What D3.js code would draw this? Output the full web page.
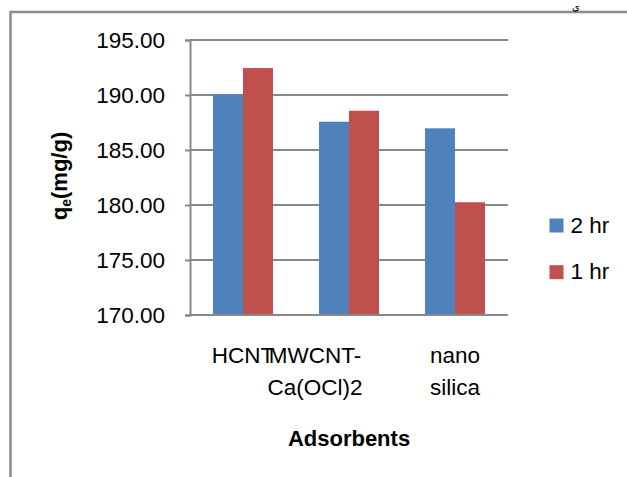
<!DOCTYPE html>
<html>
<head>
<meta charset="utf-8">
<script src="https://cdn.jsdelivr.net/npm/d3@7"></script>
<style>
  html, body { margin: 0; padding: 0; background: #fff; }
  svg { display: block; }
  text { font-family: "Liberation Sans", Arial, sans-serif; fill: #000; }
</style>
</head>
<body>
<svg id="chart" width="627" height="477"></svg>
<script>
// Adsorption capacity per adsorbent after 2 h and 1 h
const categories = ["HCNT", "MWCNT-Ca(OCl)2", "nano silica"];
const categoryLines = [["HCNT"], ["MWCNT-", "Ca(OCl)2"], ["nano", "silica"]];
const seriesNames = ["2 hr", "1 hr"];
const values2hr = [190.05, 187.57, 186.97];
const values1hr = [192.45, 188.57, 180.25];
const yTicks = [170, 175, 180, 185, 190, 195];
const yTitle = "q";
const yTitleSub = "e";
const yTitleRest = "(mg/g)";
const xTitle = "Adsorbents";
const cornerText = "ي";

const colors = ["#4F81BD", "#C0504D"];
const series = [values2hr, values1hr];

const svg = d3.select("#chart");

// outer frame (only top and left edges fall inside the view)
svg.append("path")
  .attr("d", "M10.5,477 V12 H627")
  .attr("fill", "none")
  .attr("stroke", "#8c8c8c")
  .attr("stroke-width", 2.5);

svg.append("text")
  .attr("x", 576).attr("y", 10)
  .attr("text-anchor", "middle")
  .style("font-size", "10px")
  .text(cornerText);

const plot = { left: 190, right: 508, top: 40, bottom: 315 };

const x = d3.scaleBand()
  .domain(categories)
  .range([plot.left, plot.right])
  .paddingInner(0.434)
  .paddingOuter(0.217);

const xs = d3.scaleBand()
  .domain(seriesNames)
  .range([0, x.bandwidth()]);

const y = d3.scaleLinear()
  .domain([170, 195])
  .range([plot.bottom, plot.top]);

// horizontal gridlines
svg.append("g")
  .selectAll("line")
  .data(yTicks.filter(t => t > 170))
  .join("line")
  .attr("x1", plot.left).attr("x2", plot.right)
  .attr("y1", d => y(d)).attr("y2", d => y(d))
  .attr("stroke", "#888")
  .attr("stroke-width", 2);

// bars
const groups = svg.append("g")
  .selectAll("g")
  .data(categories)
  .join("g")
  .attr("transform", d => `translate(${x(d)},0)`);

groups.selectAll("rect")
  .data((d, i) => seriesNames.map((s, j) => ({ s, j, v: series[j][i] })))
  .join("rect")
  .attr("x", d => xs(d.s))
  .attr("width", xs.bandwidth())
  .attr("y", d => y(d.v))
  .attr("height", d => y(170) - y(d.v))
  .attr("fill", d => colors[d.j]);

// y axis
const yAxis = svg.append("g")
  .attr("transform", `translate(${plot.left},0)`)
  .call(d3.axisLeft(y).tickValues(yTicks).tickFormat(d3.format(".2f")).tickSize(5).tickPadding(20));
yAxis.select(".domain").attr("stroke", "#888").attr("stroke-width", 2);
yAxis.selectAll(".tick line").attr("stroke", "#888").attr("stroke-width", 2);
yAxis.selectAll(".tick text")
  .attr("fill", "#000")
  .style("font-family", "'Liberation Sans', Arial, sans-serif")
  .style("font-size", "22.5px");

// x axis baseline
svg.append("line")
  .attr("x1", plot.left - 1).attr("x2", plot.right)
  .attr("y1", plot.bottom).attr("y2", plot.bottom)
  .attr("stroke", "#888")
  .attr("stroke-width", 2);

// category labels (wrapped)
const labelShift = [0, -34, 0];
svg.append("g")
  .selectAll("text")
  .data(categories)
  .join("text")
  .attr("text-anchor", "middle")
  .style("font-size", "22.5px")
  .each(function (d, i) {
    const cx = x(d) + x.bandwidth() / 2 + labelShift[i];
    d3.select(this).selectAll("tspan")
      .data(categoryLines[i])
      .join("tspan")
      .attr("x", cx)
      .attr("y", (t, k) => 363 + k * 31.5)
      .text(t => t);
  });

// axis titles
svg.append("text")
  .attr("x", (plot.left + plot.right) / 2)
  .attr("y", 446)
  .attr("text-anchor", "middle")
  .style("font-size", "22px")
  .style("font-weight", "bold")
  .text(xTitle);

const yt = svg.append("text")
  .attr("transform", "translate(66.5,176) rotate(-90)")
  .attr("text-anchor", "middle")
  .style("font-size", "22px")
  .style("font-weight", "bold");
yt.append("tspan").text(yTitle);
yt.append("tspan").attr("dy", 4).style("font-size", "14px").text(yTitleSub);
yt.append("tspan").attr("dy", -4).text(yTitleRest);

// legend
const legend = svg.append("g")
  .selectAll("g")
  .data(seriesNames)
  .join("g")
  .attr("transform", (d, i) => `translate(549.5,${218.5 + i * 46.7})`);
legend.append("rect")
  .attr("width", 14).attr("height", 14)
  .attr("fill", (d, i) => colors[i]);
legend.append("text")
  .attr("x", 21).attr("y", 14)
  .style("font-size", "22.5px")
  .text(d => d);
</script>
</body>
</html>
